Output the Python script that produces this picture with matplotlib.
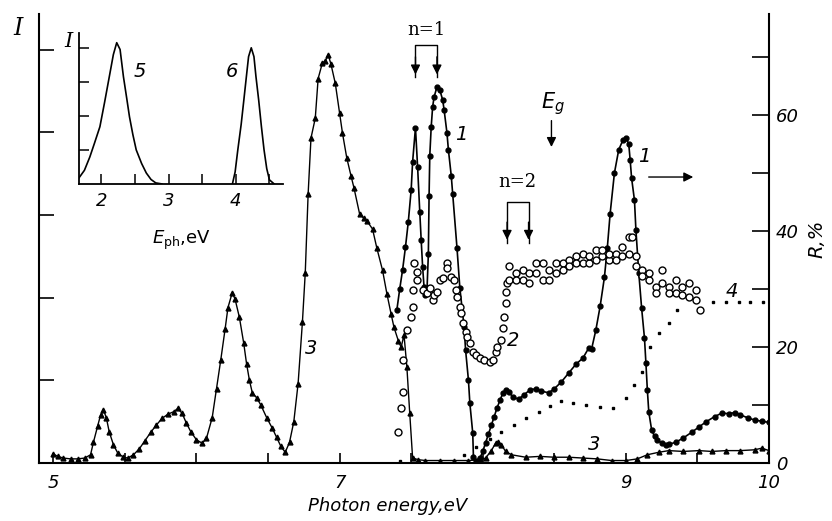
import matplotlib
matplotlib.use("Agg")
import matplotlib.pyplot as plt
import numpy as np

# curve 3 (triangles), intensity I, left axis
x3 = [5.00, 5.03, 5.07, 5.12, 5.17, 5.22, 5.26, 5.28, 5.31, 5.33, 5.35, 5.37, 5.39, 5.42, 5.45,
      5.49, 5.52, 5.56, 5.60, 5.64, 5.68, 5.72, 5.76, 5.80, 5.84, 5.87, 5.90, 5.93, 5.96, 6.00,
      6.04, 6.07, 6.11, 6.14, 6.17, 6.20, 6.22, 6.25, 6.27, 6.30, 6.33, 6.35, 6.37, 6.39, 6.42,
      6.45, 6.49, 6.53, 6.56, 6.59, 6.62, 6.65, 6.68, 6.71, 6.74, 6.76, 6.78, 6.80, 6.83, 6.85,
      6.88, 6.90, 6.92, 6.94, 6.97, 7.00, 7.02, 7.05, 7.08, 7.10, 7.14, 7.17, 7.19, 7.23, 7.26,
      7.30, 7.33, 7.36, 7.38, 7.41, 7.43, 7.45, 7.47, 7.49, 7.51, 7.55, 7.60, 7.70, 7.80, 7.90,
      7.98, 8.02, 8.06, 8.09, 8.11, 8.13, 8.16, 8.20, 8.30, 8.40, 8.50, 8.60, 8.70, 8.80, 8.90,
      9.00, 9.08, 9.15, 9.23, 9.30, 9.40, 9.51, 9.60, 9.70, 9.80, 9.90, 9.95, 10.0]
i3 = [0.11, 0.08, 0.06, 0.05, 0.05, 0.06, 0.10, 0.25, 0.45, 0.58, 0.64, 0.55, 0.38, 0.22, 0.12,
      0.07, 0.06, 0.10, 0.17, 0.27, 0.37, 0.46, 0.54, 0.59, 0.62, 0.66, 0.60, 0.48, 0.38, 0.28,
      0.24, 0.30, 0.55, 0.90, 1.25, 1.62, 1.88, 2.06, 1.98, 1.76, 1.45, 1.20, 1.00, 0.85, 0.79,
      0.70, 0.55, 0.42, 0.31, 0.20, 0.13, 0.25, 0.50, 0.96, 1.70, 2.30, 3.25, 3.93, 4.17, 4.65,
      4.84, 4.86, 4.94, 4.82, 4.59, 4.23, 3.99, 3.69, 3.47, 3.33, 3.01, 2.96, 2.93, 2.83, 2.60,
      2.33, 2.05, 1.80, 1.64, 1.48, 1.40, 1.55, 1.16, 0.60, 0.06, 0.04, 0.03, 0.03, 0.03, 0.03,
      0.04, 0.06, 0.15, 0.24, 0.26, 0.22, 0.14, 0.10, 0.07, 0.08, 0.07, 0.07, 0.06, 0.05, 0.03,
      0.03, 0.05, 0.10, 0.13, 0.15, 0.14, 0.15, 0.14, 0.15, 0.15, 0.16, 0.18, 0.15]

# curve 1 (filled circles), R %, right axis
x1 = [7.40, 7.42, 7.44, 7.46, 7.48, 7.50, 7.51, 7.53, 7.545, 7.56, 7.57, 7.58, 7.59, 7.60, 7.61,
      7.62, 7.625, 7.63, 7.64, 7.65, 7.66, 7.68, 7.70, 7.72, 7.73, 7.75, 7.76, 7.78, 7.79, 7.82,
      7.84, 7.87, 7.88, 7.90, 7.91, 7.93, 7.935, 7.95, 7.97, 7.98, 8.00, 8.02, 8.04, 8.06, 8.08,
      8.10, 8.12, 8.14, 8.16, 8.18, 8.21, 8.25, 8.29, 8.33, 8.37, 8.41, 8.46, 8.50, 8.55, 8.60,
      8.65, 8.70, 8.74, 8.76, 8.79, 8.82, 8.85, 8.87, 8.89, 8.92, 8.95, 8.98, 9.00, 9.02, 9.03,
      9.04, 9.06, 9.07, 9.09, 9.11, 9.13, 9.14, 9.15, 9.16, 9.18, 9.20, 9.22, 9.25, 9.28, 9.30,
      9.35, 9.40, 9.46, 9.51, 9.56, 9.62, 9.67, 9.72, 9.76, 9.80, 9.85, 9.90, 9.95, 10.0]
r1 = [26.4, 30.0, 33.3, 37.2, 41.6, 47.1, 51.9, 57.8, 51.0, 43.3, 38.4, 33.8, 30.3, 29.0, 29.5,
      36.0, 46.0, 53.0, 58.0, 61.4, 63.1, 64.8, 64.3, 62.6, 60.9, 56.9, 54.0, 49.5, 46.4, 37.1,
      30.2, 23.4, 19.5, 14.3, 10.3, 5.2, 1.0, 0.3, 0.3, 0.8, 2.0, 3.5, 5.0, 6.5, 8.0,
      9.5, 10.8, 12.0, 12.6, 12.3, 11.4, 11.0, 11.8, 12.6, 12.8, 12.4, 12.1, 12.8, 14.0, 15.5,
      17.0, 18.1, 19.8, 19.6, 22.9, 27.0, 32.0, 37.0, 43.0, 50.0, 54.0, 55.7, 56.0, 55.0, 52.2,
      49.1, 45.3, 40.2, 32.8, 26.7, 21.5, 17.2, 12.6, 8.8, 5.7, 4.6, 4.0, 3.4, 3.1, 3.2,
      3.6, 4.3, 5.3, 6.2, 7.1, 8.0, 8.6, 8.5, 8.7, 8.3, 7.8, 7.4, 7.2, 7.0]

# curve 2 (open circles), R %
x2 = [7.41, 7.43, 7.44, 7.44, 7.47, 7.50, 7.51, 7.51, 7.52, 7.54, 7.54, 7.58, 7.61, 7.63, 7.65,
      7.66, 7.68, 7.70, 7.72, 7.75, 7.75, 7.78, 7.80, 7.81, 7.82, 7.84, 7.85, 7.86, 7.88, 7.89,
      7.91, 7.93, 7.95, 7.98, 8.01, 8.05, 8.07, 8.09, 8.10, 8.13, 8.14, 8.15, 8.16, 8.16, 8.17,
      8.185, 8.185, 8.23, 8.23, 8.28, 8.28, 8.32, 8.32, 8.37, 8.37, 8.42, 8.42, 8.46, 8.46, 8.51,
      8.51, 8.56, 8.56, 8.60, 8.60, 8.65, 8.65, 8.70, 8.70, 8.74, 8.74, 8.79, 8.79, 8.83, 8.83,
      8.88, 8.88, 8.93, 8.93, 8.97, 8.97, 9.02, 9.02, 9.04, 9.07, 9.07, 9.11, 9.11, 9.16, 9.16,
      9.21, 9.21, 9.25, 9.25, 9.30, 9.30, 9.35, 9.35, 9.39, 9.39, 9.44, 9.44, 9.49, 9.49, 9.52]
r2 = [5.3, 9.5, 12.2, 17.8, 22.9, 25.2, 26.9, 29.8, 34.5, 32.9, 31.5, 29.8, 29.3, 30.2, 28.1,
      29.0, 29.5, 31.5, 31.9, 34.5, 33.6, 32.1, 31.5, 29.8, 28.6, 26.9, 25.9, 24.1, 22.6, 21.7,
      20.7, 19.1, 18.6, 18.1, 17.8, 17.4, 17.8, 19.1, 20.0, 21.2, 23.3, 25.2, 27.6, 29.5, 31.0,
      33.9, 31.6, 32.7, 31.6, 31.6, 33.3, 32.7, 31.0, 34.4, 32.7, 34.4, 31.6, 33.3, 31.6, 32.7,
      34.4, 34.4, 33.3, 35.0, 33.9, 35.6, 34.4, 34.4, 36.1, 34.4, 35.6, 36.7, 35.0, 35.6, 36.7,
      35.0, 36.1, 36.1, 35.0, 37.2, 35.6, 39.0, 36.1, 39.0, 35.6, 33.9, 33.3, 32.2, 31.6, 32.7,
      30.4, 29.3, 33.3, 31.0, 30.4, 29.3, 29.3, 31.6, 30.4, 29.0, 31.0, 28.6, 29.9, 28.1, 26.4]

# curve 4 (dots), R %
x4 = [7.42, 7.87, 7.95, 8.05, 8.13, 8.22, 8.30, 8.39, 8.47, 8.55, 8.63, 8.72, 8.82, 8.91, 9.00,
      9.06, 9.11, 9.17, 9.23, 9.30, 9.36, 9.61, 9.70, 9.79, 9.87, 9.96]
r4 = [0.4, 1.4, 2.8, 4.2, 5.3, 6.6, 7.8, 8.8, 9.9, 10.7, 10.3, 10.0, 9.7, 9.5, 11.2,
      13.4, 15.7, 20.0, 22.4, 24.1, 26.4, 27.8, 27.8, 27.8, 27.8, 27.8]

# inset: curves 5 and 6
x5 = [1.67, 1.75, 1.83, 1.90, 1.98, 2.05, 2.13, 2.18, 2.23, 2.28, 2.33, 2.38, 2.42, 2.47, 2.52,
      2.60, 2.67, 2.74, 2.81, 2.90]
i5 = [0.18, 0.40, 0.79, 1.20, 1.68, 2.40, 3.26, 3.80, 4.15, 3.95, 3.15, 2.50, 1.97, 1.45, 1.00,
      0.60, 0.32, 0.13, 0.03, 0.0]
x6 = [3.95, 3.99, 4.03, 4.08, 4.12, 4.16, 4.19, 4.23, 4.27, 4.30, 4.34, 4.38, 4.42, 4.46, 4.50, 4.57]
i6 = [0.0, 0.35, 1.0, 1.75, 2.47, 3.20, 3.74, 4.0, 3.74, 3.15, 2.47, 1.70, 1.0, 0.45, 0.12, 0.0]

x_ticks = [5, 5.5, 6, 6.5, 7, 7.5, 8, 8.5, 9, 9.5, 10]
x_ticklabels = ["5", "", "", "", "7", "", "", "", "9", "", "10"]
r_ticks = [0, 10, 20, 30, 40, 50, 60, 70]
r_ticklabels = ["0", "", "20", "", "40", "", "60", ""]

fig = plt.figure(figsize=(8.32, 5.21), dpi=100)
ax = fig.add_axes([0.0469, 0.1113, 0.8774, 0.8618])
ax2 = ax.twinx()

ax.plot(x3, i3, color="k", lw=1.0, marker="^", ms=3.5)
ax2.plot(x1, r1, color="k", lw=1.2, marker="o", ms=3.5)
ax2.plot(x2, r2, ls="none", marker="o", ms=5, mfc="white", mec="k", mew=1.0)
ax2.plot(x4, r4, ls="none", marker="s", ms=1.8, color="k")

ax.set_xlim(4.90, 10.0)
ax.set_ylim(0, 5.43)
ax2.set_ylim(0, 77.4)

for a in (ax, ax2):
    a.spines["top"].set_visible(False)
    for s in a.spines.values():
        s.set_linewidth(1.5)
ax.spines["right"].set_visible(False)
ax2.spines["left"].set_visible(False)
ax2.spines["bottom"].set_visible(False)

ax.set_xticks(x_ticks)
ax.set_xticklabels(x_ticklabels, fontsize=13, style="italic")
ax.tick_params(axis="x", direction="in", length=7, width=1.2, pad=8)
ax.set_yticks([1, 2, 3, 4, 5])
ax.set_yticklabels([])
ax.tick_params(axis="y", direction="in", length=11, width=1.2)
ax2.set_yticks(r_ticks)
ax2.set_yticklabels(r_ticklabels, fontsize=13, style="italic")
ax2.tick_params(axis="y", direction="in", length=12, width=1.2, pad=5)

ax.set_xlabel("Photon energy,eV", fontsize=13, style="italic")
ax.xaxis.set_label_coords(0.477, -0.075)
ax2.set_ylabel("R,%", fontsize=14, style="italic", rotation=90, labelpad=6)

fig.text(0.022, 0.946, "I", fontsize=17, family="DejaVu Serif", style="italic", ha="center", va="center")

# annotations on the R axis
ax2.text(7.605, 74.7, "n=1", fontsize=13, family="DejaVu Serif", ha="center", va="center")
ax2.plot([7.53, 7.53, 7.68, 7.68], [66.5, 72.1, 72.1, 66.5], color="k", lw=1.0)
for xa in (7.53, 7.68):
    ax2.annotate("", xy=(xa, 66.5), xytext=(xa, 70.5),
                 arrowprops=dict(arrowstyle="-|>", color="k", lw=1.0, mutation_scale=14))
ax2.text(8.245, 48.4, "n=2", fontsize=13, family="DejaVu Serif", ha="center", va="center")
ax2.plot([8.17, 8.17, 8.32, 8.32], [38.0, 45.0, 45.0, 38.0], color="k", lw=1.0)
for xa in (8.17, 8.32):
    ax2.annotate("", xy=(xa, 38.0), xytext=(xa, 42.0),
                 arrowprops=dict(arrowstyle="-|>", color="k", lw=1.0, mutation_scale=14))
ax2.text(8.49, 62.0, "$E_g$", fontsize=15, ha="center", va="center")
ax2.annotate("", xy=(8.48, 54.0), xytext=(8.48, 59.5),
             arrowprops=dict(arrowstyle="-|>", color="k", lw=1.0, mutation_scale=14))
ax2.text(7.85, 56.6, "1", fontsize=14, style="italic", ha="center", va="center")
ax2.text(9.13, 52.8, "1", fontsize=14, style="italic", ha="center", va="center")
ax2.annotate("", xy=(9.49, 49.3), xytext=(9.14, 49.3),
             arrowprops=dict(arrowstyle="-|>", color="k", lw=1.0, mutation_scale=14))
ax2.text(8.21, 21.2, "2", fontsize=14, style="italic", ha="center", va="center")
ax2.text(6.80, 19.8, "3", fontsize=14, style="italic", ha="center", va="center")
ax2.text(8.78, 3.2, "3", fontsize=14, style="italic", ha="center", va="center")
ax2.text(9.74, 29.5, "4", fontsize=14, style="italic", ha="center", va="center")

# inset
axi = fig.add_axes([0.095, 0.647, 0.245, 0.290])
axi.plot(x5, i5, color="k", lw=1.2)
axi.plot(x6, i6, color="k", lw=1.2)
axi.set_xlim(1.67, 4.70)
axi.set_ylim(0, 4.44)
axi.spines["top"].set_visible(False)
axi.spines["right"].set_visible(False)
axi.spines["left"].set_linewidth(1.3)
axi.spines["bottom"].set_linewidth(1.3)
axi.set_xticks([2, 2.5, 3, 3.5, 4, 4.5])
axi.set_xticklabels(["2", "", "3", "", "4", ""], fontsize=13, style="italic")
axi.set_yticks([1, 2, 3, 4])
axi.set_yticklabels([])
axi.tick_params(axis="both", direction="in", length=7, width=1.1)
axi.tick_params(axis="x", pad=6)
axi.set_xlabel("$E_{\\rm ph}$,eV", fontsize=13)
axi.xaxis.set_label_coords(0.5, -0.30)
axi.text(-0.05, 0.94, "I", transform=axi.transAxes, fontsize=15, family="DejaVu Serif",
         style="italic", ha="center", va="center")
axi.text(2.58, 3.29, "5", fontsize=14, style="italic", ha="center", va="center")
axi.text(3.94, 3.29, "6", fontsize=14, style="italic", ha="center", va="center")

fig.savefig("out.png", dpi=100)
